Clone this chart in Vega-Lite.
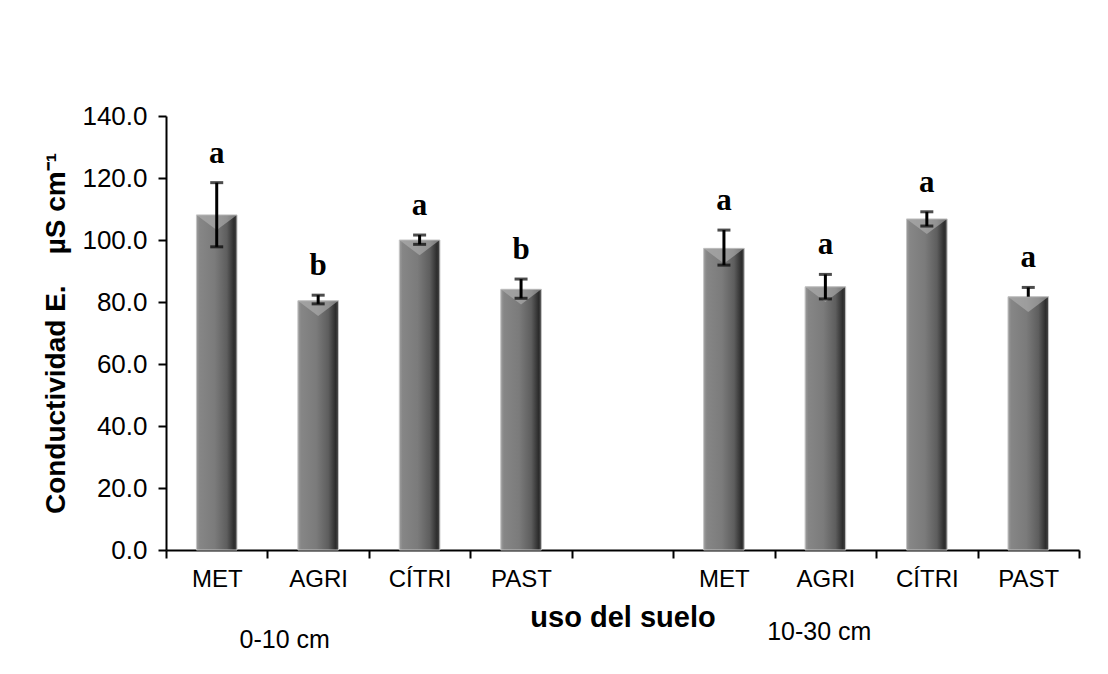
{
  "$schema": "https://vega.github.io/schema/vega-lite/v6.json",
  "autosize": "none",
  "width": 913,
  "height": 434,
  "padding": {"left": 166, "top": 116, "right": 29, "bottom": 124},
  "background": "white",
  "config": {
    "view": {"stroke": null},
    "font": "Liberation Sans",
    "axis": {"grid": false, "domainColor": "black", "tickColor": "black", "labelColor": "black", "titleColor": "black"}
  },
  "data": {
    "values": [
      {"clave": "MET_1", "uso": "MET", "prof": "0-10 cm", "ce": 108.1, "lo": 97.8, "hi": 118.5, "letra": "a"},
      {"clave": "AGRI_1", "uso": "AGRI", "prof": "0-10 cm", "ce": 80.4, "lo": 79.4, "hi": 82.2, "letra": "b"},
      {"clave": "CITRI_1", "uso": "CÍTRI", "prof": "0-10 cm", "ce": 100.0, "lo": 98.6, "hi": 101.6, "letra": "a"},
      {"clave": "PAST_1", "uso": "PAST", "prof": "0-10 cm", "ce": 84.1, "lo": 81.2, "hi": 87.4, "letra": "b"},
      {"clave": "MET_2", "uso": "MET", "prof": "10-30 cm", "ce": 97.3, "lo": 91.9, "hi": 103.2, "letra": "a"},
      {"clave": "AGRI_2", "uso": "AGRI", "prof": "10-30 cm", "ce": 84.9, "lo": 81.0, "hi": 88.9, "letra": "a"},
      {"clave": "CITRI_2", "uso": "CÍTRI", "prof": "10-30 cm", "ce": 106.8, "lo": 104.5, "hi": 109.1, "letra": "a"},
      {"clave": "PAST_2", "uso": "PAST", "prof": "10-30 cm", "ce": 81.7, "lo": 81.7, "hi": 84.7, "letra": "a"}
    ]
  },
  "encoding": {
    "x": {
      "field": "clave",
      "type": "nominal",
      "sort": null,
      "scale": {
        "domain": ["MET_1", "AGRI_1", "CITRI_1", "PAST_1", "hueco", "MET_2", "AGRI_2", "CITRI_2", "PAST_2"],
        "paddingInner": 0,
        "paddingOuter": 0
      },
      "axis": {
        "title": "uso del suelo",
        "titleFontSize": 29,
        "titleFontWeight": "bold",
        "titlePadding": 12,
        "labelExpr": "(datum.value == null || datum.value == 'hueco') ? '' : replace(replace(datum.value, /_\\d/, ''), 'CITRI', 'CÍTRI')",
        "labelAngle": 0,
        "labelFontSize": 24,
        "labelPadding": 9,
        "tickBand": "extent",
        "tickSize": 8,
        "tickWidth": 2,
        "domainWidth": 2
      }
    },
    "y": {
      "type": "quantitative",
      "scale": {"domain": [0, 140], "nice": false},
      "axis": {
        "title": "Conductividad E.\u00a0\u00a0\u00a0\u00a0µS cm⁻¹",
        "titleFontSize": 28,
        "titleFontWeight": "bold",
        "titlePadding": 11,
        "values": [0, 20, 40, 60, 80, 100, 120, 140],
        "format": ".1f",
        "labelFontSize": 26,
        "labelPadding": 11,
        "tickSize": 8,
        "tickWidth": 2,
        "domainWidth": 2
      }
    }
  },
  "layer": [
    {
      "mark": {
        "type": "bar",
        "width": {"band": 0.4},
        "stroke": "#c4c4c4",
        "strokeWidth": 1,
        "color": {
          "gradient": "linear",
          "x1": 0, "x2": 1, "y1": 0, "y2": 0,
          "stops": [
            {"offset": 0, "color": "#9c9c9c"},
            {"offset": 0.08, "color": "#868686"},
            {"offset": 0.45, "color": "#7b7b7b"},
            {"offset": 0.75, "color": "#5e5e5e"},
            {"offset": 0.93, "color": "#2c2c2c"},
            {"offset": 1, "color": "#4a4a4a"}
          ]
        }
      },
      "encoding": {"y": {"field": "ce"}}
    },
    {
      "mark": {
        "type": "point",
        "shape": "M-1,0L1,0L0,0.75Z",
        "size": 1640,
        "filled": true,
        "color": "#b4b4b4",
        "opacity": 0.6
      },
      "encoding": {"y": {"field": "ce"}}
    },
    {
      "mark": {"type": "rule", "color": "black", "strokeWidth": 3},
      "encoding": {"y": {"field": "lo"}, "y2": {"field": "hi"}}
    },
    {
      "mark": {"type": "tick", "color": "black", "thickness": 3, "size": 13, "orient": "horizontal"},
      "encoding": {"y": {"field": "hi"}}
    },
    {
      "transform": [{"filter": "datum.lo < datum.ce"}],
      "mark": {"type": "tick", "color": "black", "thickness": 3, "size": 13, "orient": "horizontal"},
      "encoding": {"y": {"field": "lo"}}
    },
    {
      "mark": {
        "type": "text",
        "font": "Liberation Serif",
        "fontWeight": "bold",
        "fontSize": 31,
        "baseline": "alphabetic",
        "dy": -20,
        "color": "black"
      },
      "encoding": {"y": {"field": "hi"}, "text": {"field": "letra"}}
    },
    {
      "data": {"values": [{"prof": "0-10 cm"}]},
      "mark": {"type": "text", "fontSize": 25, "baseline": "middle", "align": "center", "clip": false, "color": "black"},
      "encoding": {
        "x": {"datum": "AGRI_1", "bandPosition": 0.17},
        "y": {"datum": -29},
        "text": {"field": "prof"}
      }
    },
    {
      "data": {"values": [{"prof": "10-30 cm"}]},
      "mark": {"type": "text", "fontSize": 25, "baseline": "middle", "align": "center", "clip": false, "color": "black"},
      "encoding": {
        "x": {"datum": "AGRI_2", "bandPosition": 0.44},
        "y": {"datum": -26.5},
        "text": {"field": "prof"}
      }
    }
  ]
}
